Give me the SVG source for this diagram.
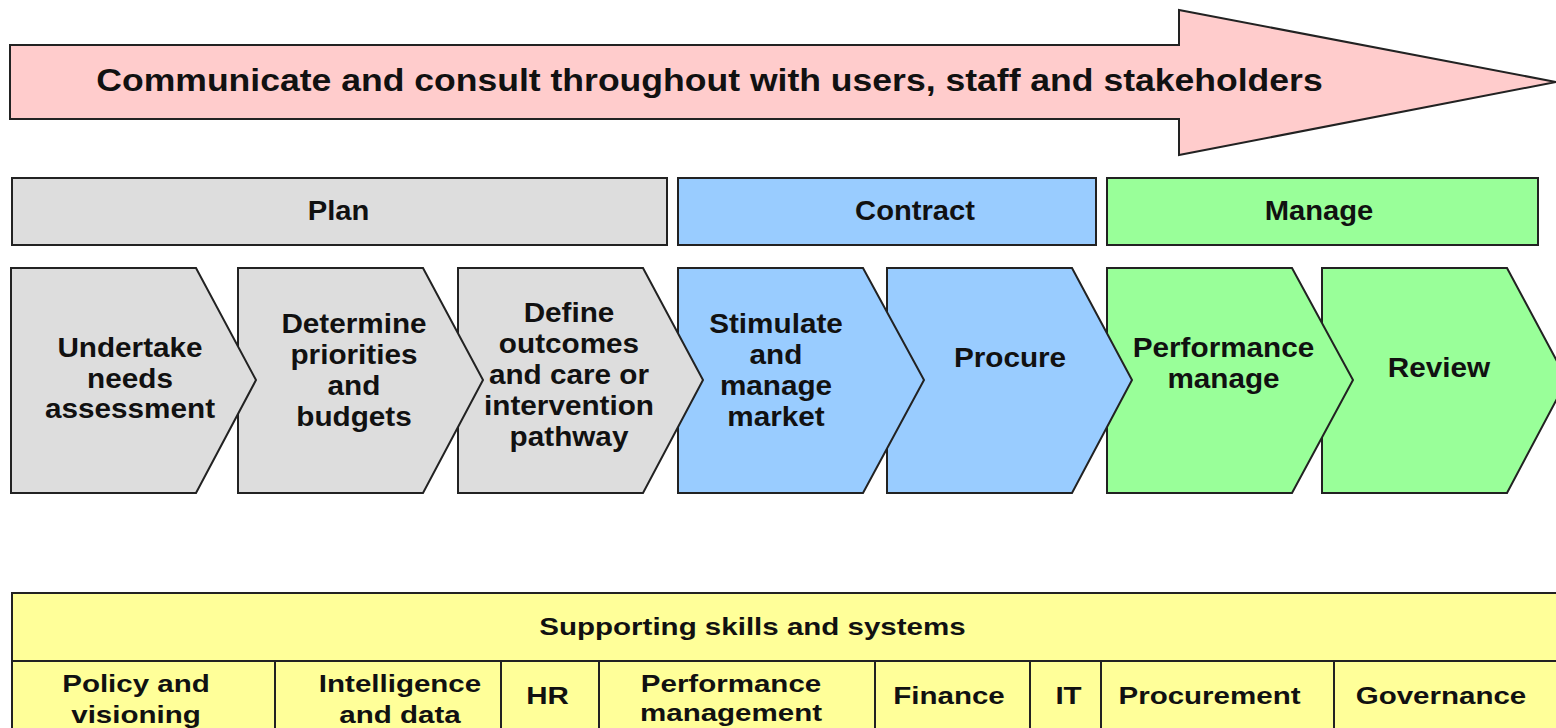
<svg xmlns="http://www.w3.org/2000/svg" width="1556" height="728" viewBox="0 0 1556 728">
<style>
  text { font-family: "Liberation Sans", Arial, sans-serif; font-weight: bold; fill: #111; text-anchor: middle; }
  .shape { stroke: #222; stroke-width: 2; stroke-linejoin: miter; }
  .pink { fill: #ffcccc; }
  .grey { fill: #dddddd; }
  .blue { fill: #99ccff; }
  .green { fill: #99ff99; }
  .yellow { fill: #ffff99; }
  .top { font-size: 31px; }
  .phase { font-size: 27px; }
  .chev { font-size: 27px; }
  .tbl { font-size: 24px; }
  .line { stroke: #222; stroke-width: 2; fill: none; }
</style>
<rect width="1556" height="728" fill="#ffffff"/>

<g id="communicate-arrow">
  <polygon class="shape pink" points="10,45 1179,45 1179,10 1556,82 1179,155 1179,119 10,119"/>
  <text class="top" transform="translate(709.5,0) scale(1.147,1)" x="0" y="91">Communicate and consult throughout with users, staff and stakeholders</text>
</g>

<g id="phase-plan">
  <rect class="shape grey" x="12" y="178" width="655" height="67"/>
  <text class="phase" transform="translate(338.5,0) scale(1.08,1)" x="0" y="220">Plan</text>
</g>
<g id="phase-contract">
  <rect class="shape blue" x="678" y="178" width="418" height="67"/>
  <text class="phase" transform="translate(915,0) scale(1.08,1)" x="0" y="220">Contract</text>
</g>
<g id="phase-manage">
  <rect class="shape green" x="1107" y="178" width="431" height="67"/>
  <text class="phase" transform="translate(1319,0) scale(1.08,1)" x="0" y="220">Manage</text>
</g>

<g id="step-review">
  <polygon class="shape green" points="1322,268 1507,268 1567,380 1507,493 1322,493"/>
  <text class="chev" transform="translate(1439,0) scale(1.1,1)" x="0" y="377">Review</text>
</g>
<g id="step-performance-manage">
  <polygon class="shape green" points="1107,268 1292,268 1353,380 1292,493 1107,493"/>
  <text class="chev" transform="translate(1223.5,0) scale(1.1,1)"><tspan x="0" y="357">Performance</tspan><tspan x="0" y="388">manage</tspan></text>
</g>
<g id="step-procure">
  <polygon class="shape blue" points="887,268 1072,268 1132,380 1072,493 887,493"/>
  <text class="chev" transform="translate(1010,0) scale(1.1,1)" x="0" y="367">Procure</text>
</g>
<g id="step-stimulate">
  <polygon class="shape blue" points="678,268 863,268 924,380 863,493 678,493"/>
  <text class="chev" transform="translate(776,0) scale(1.1,1)"><tspan x="0" y="333">Stimulate</tspan><tspan x="0" y="364">and</tspan><tspan x="0" y="395">manage</tspan><tspan x="0" y="426">market</tspan></text>
</g>
<g id="step-define">
  <polygon class="shape grey" points="458,268 643,268 703,380 643,493 458,493"/>
  <text class="chev" transform="translate(569,0) scale(1.1,1)"><tspan x="0" y="322">Define</tspan><tspan x="0" y="353">outcomes</tspan><tspan x="0" y="384">and care or</tspan><tspan x="0" y="415">intervention</tspan><tspan x="0" y="446">pathway</tspan></text>
</g>
<g id="step-determine">
  <polygon class="shape grey" points="238,268 423,268 483,380 423,493 238,493"/>
  <text class="chev" transform="translate(354,0) scale(1.1,1)"><tspan x="0" y="333">Determine</tspan><tspan x="0" y="364">priorities</tspan><tspan x="0" y="395">and</tspan><tspan x="0" y="426">budgets</tspan></text>
</g>
<g id="step-undertake">
  <polygon class="shape grey" points="11,268 196,268 256,380 196,493 11,493"/>
  <text class="chev" transform="translate(130,0) scale(1.1,1)"><tspan x="0" y="357">Undertake</tspan><tspan x="0" y="388">needs</tspan><tspan x="0" y="418">assessment</tspan></text>
</g>

<g id="supporting-table">
  <rect class="shape yellow" x="12" y="593" width="1560" height="200"/>
  <line class="line" x1="12" y1="661" x2="1556" y2="661"/>
  <line class="line" x1="275" y1="661" x2="275" y2="728"/>
  <line class="line" x1="501" y1="661" x2="501" y2="728"/>
  <line class="line" x1="599" y1="661" x2="599" y2="728"/>
  <line class="line" x1="875" y1="661" x2="875" y2="728"/>
  <line class="line" x1="1030" y1="661" x2="1030" y2="728"/>
  <line class="line" x1="1101" y1="661" x2="1101" y2="728"/>
  <line class="line" x1="1334" y1="661" x2="1334" y2="728"/>
  <text class="tbl" transform="translate(752.5,0) scale(1.23,1)" x="0" y="635">Supporting skills and systems</text>
  <text class="tbl" transform="translate(136,0) scale(1.23,1)"><tspan x="0" y="692">Policy and</tspan><tspan x="0" y="723">visioning</tspan></text>
  <text class="tbl" transform="translate(400,0) scale(1.23,1)"><tspan x="0" y="692">Intelligence</tspan><tspan x="0" y="723">and data</tspan></text>
  <text class="tbl" transform="translate(547.5,0) scale(1.23,1)" x="0" y="704">HR</text>
  <text class="tbl" transform="translate(731,0) scale(1.23,1)"><tspan x="0" y="692">Performance</tspan><tspan x="0" y="721">management</tspan></text>
  <text class="tbl" transform="translate(949,0) scale(1.23,1)" x="0" y="704">Finance</text>
  <text class="tbl" transform="translate(1068.5,0) scale(1.23,1)" x="0" y="704">IT</text>
  <text class="tbl" transform="translate(1209.5,0) scale(1.23,1)" x="0" y="704">Procurement</text>
  <text class="tbl" transform="translate(1441,0) scale(1.23,1)" x="0" y="704">Governance</text>
</g>

<g id="connectors"></g>
</svg>
